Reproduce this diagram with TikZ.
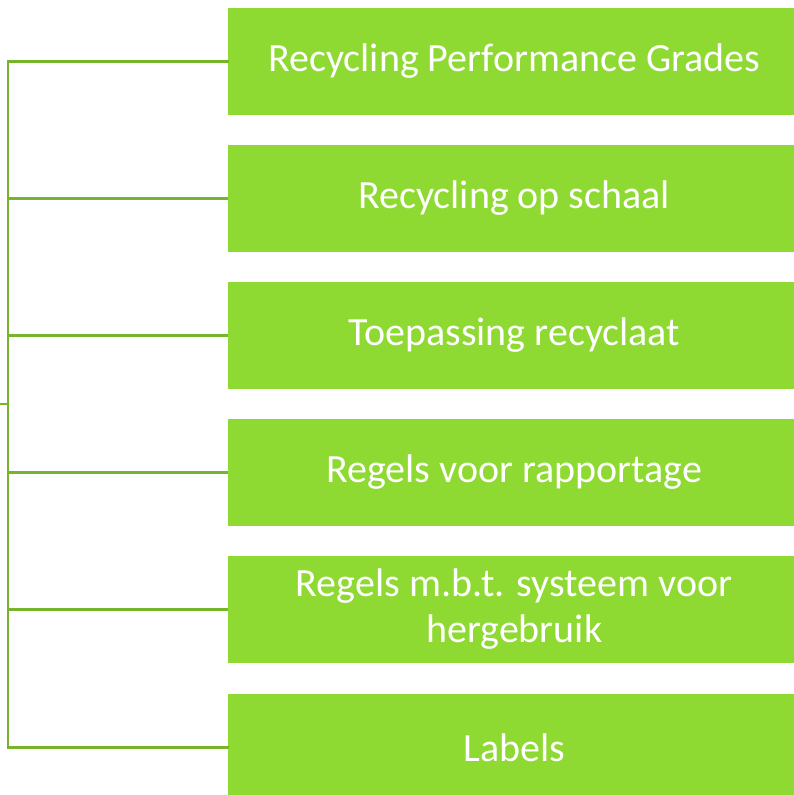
\documentclass[tikz,border=0pt]{standalone}
\usepackage{fontspec}
\setmainfont{Carlito}
\definecolor{boxgreen}{RGB}{142,217,50}
\definecolor{linegreen}{RGB}{118,180,42}
\begin{document}
\begin{tikzpicture}[x=1pt,y=-1pt,
  itembox/.style={fill=boxgreen, draw=none, minimum width=572pt, minimum height=107pt, inner sep=0pt, text=white, align=center, font=\fontsize{40}{46}\selectfont, anchor=west},
  conn/.style={draw=linegreen, line width=2.4pt}]
\useasboundingbox (0,0) rectangle (794,795);
\clip (0,0) rectangle (794,795);
\node[itembox] (b1) at (228,61.5) {Recycling Performance Grades};
\node[itembox] (b2) at (228,198.5) {Recycling op schaal};
\node[itembox] (b3) at (228,335.5) {Toepassing recyclaat};
\node[itembox] (b4) at (228,472.5) {Regels voor rapportage};
\node[itembox] (b5) at (228,609.5) {Regels m.b.t. systeem voor\\hergebruik};
\node[itembox] (b6) at (228,747.5) {Labels};
\coordinate (top) at (8,61.5);
\coordinate (bot) at (8,747.5);
\coordinate (root) at (0,404);
\coordinate (rj) at (8,404);
\draw[conn, line cap=rect] (b1.west) -- (top) -- (bot) -- (b6.west);
\foreach \i in {2,3,4,5} { \draw[conn] (b\i.west) -- (8,0 |- b\i.west); }
\draw[conn] (root) -- (rj);
\end{tikzpicture}
\end{document}
